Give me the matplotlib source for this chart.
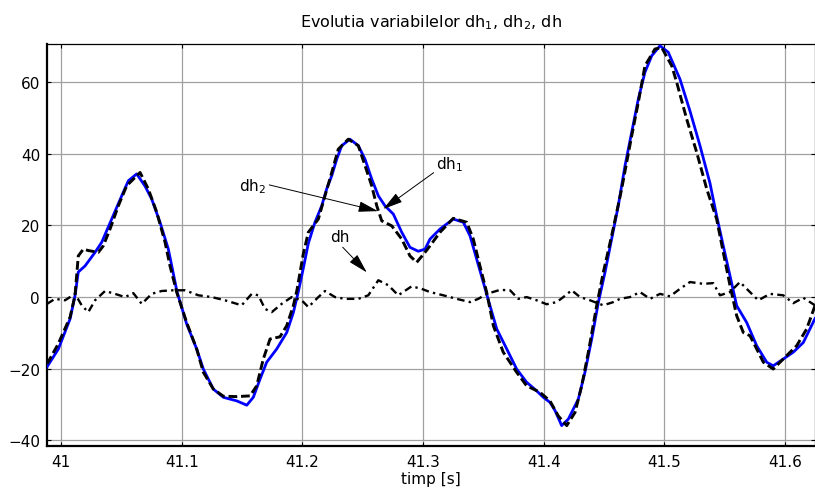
import matplotlib
matplotlib.use("Agg")
import matplotlib.pyplot as plt

plt.rcParams['font.family'] = ['DejaVu Sans']
plt.rcParams['mathtext.default'] = 'regular'

# time axis [s] and the three signals
t_dh1 = [40.9884, 40.9978, 41.0075, 41.0116, 41.0143, 41.0199, 41.0282, 41.0337, 41.0420, 41.0503,
         41.0558, 41.0627, 41.0696, 41.0751, 41.0820, 41.0889, 41.0961, 41.1041, 41.1124, 41.1179,
         41.1262, 41.1345, 41.1456, 41.1539, 41.1593, 41.1649, 41.1704, 41.1787, 41.1870, 41.1925,
         41.1966, 41.2007, 41.2049, 41.2104, 41.2160, 41.2201, 41.2243, 41.2284, 41.2326, 41.2394,
         41.2463, 41.2519, 41.2574, 41.2629, 41.2684, 41.2753, 41.2823, 41.2891, 41.2960, 41.3016,
         41.3057, 41.3140, 41.3250, 41.3333, 41.3389, 41.3444, 41.3499, 41.3554, 41.3610, 41.3693,
         41.3775, 41.3858, 41.3941, 41.3996, 41.4051, 41.4093, 41.4148, 41.4203, 41.4286, 41.4341,
         41.4397, 41.4452, 41.4507, 41.4562, 41.4617, 41.4673, 41.4728, 41.4783, 41.4838, 41.4894,
         41.4963, 41.5031, 41.5128, 41.5211, 41.5294, 41.5377, 41.5432, 41.5487, 41.5543, 41.5598,
         41.5681, 41.5764, 41.5847, 41.5901, 41.5984, 41.6067, 41.6150, 41.6247]
dh1 = [-19.5, -14.5, -6.1, 0.4, 7.0, 8.7, 12.5, 15.3, 21.8, 28.3,
       32.5, 34.4, 31.0, 27.4, 20.9, 13.4, 1.5, -7.5, -14.5, -20.1,
       -25.7, -28.0, -29.0, -30.2, -28.0, -22.9, -18.2, -14.5, -9.9, -4.3,
       1.5, 8.0, 15.0, 20.9, 25.5, 30.2, 33.9, 38.5, 42.3, 44.1,
       42.3, 38.5, 33.0, 28.3, 25.5, 23.2, 18.1, 13.9, 12.8, 13.4,
       16.2, 19.0, 21.8, 20.9, 17.1, 10.6, 4.1, -2.4, -8.9, -14.5,
       -20.1, -23.8, -26.2, -28.0, -29.4, -31.7, -35.9, -34.1, -28.5, -21.0,
       -11.7, -1.5, 6.9, 16.2, 25.5, 36.7, 46.0, 55.3, 62.8, 67.4,
       70.2, 68.4, 60.9, 52.0, 42.3, 31.8, 22.7, 14.3, 5.9, -2.4,
       -7.1, -13.6, -18.2, -19.2, -17.3, -15.4, -12.7, -6.0]

t_dh2 = [40.9884, 40.9978, 41.0075, 41.0116, 41.0143, 41.0185, 41.0226, 41.0309, 41.0350, 41.0406,
         41.0475, 41.0544, 41.0655, 41.0723, 41.0793, 41.0862, 41.0903, 41.0959, 41.1041, 41.1124,
         41.1179, 41.1262, 41.1345, 41.1456, 41.1566, 41.1621, 41.1676, 41.1732, 41.1814, 41.1870,
         41.1925, 41.1955, 41.2007, 41.2049, 41.2132, 41.2187, 41.2243, 41.2297, 41.2380, 41.2463,
         41.2519, 41.2574, 41.2616, 41.2657, 41.2740, 41.2823, 41.2891, 41.2947, 41.3016, 41.3057,
         41.3140, 41.3250, 41.3361, 41.3416, 41.3471, 41.3527, 41.3582, 41.3664, 41.3775, 41.3858,
         41.3968, 41.4051, 41.4120, 41.4190, 41.4259, 41.4314, 41.4369, 41.4438, 41.4493, 41.4562,
         41.4645, 41.4728, 41.4783, 41.4838, 41.4921, 41.4977, 41.5060, 41.5101, 41.5184, 41.5267,
         41.5350, 41.5432, 41.5487, 41.5543, 41.5598, 41.5653, 41.5708, 41.5764, 41.5819, 41.5901,
         41.5984, 41.6095, 41.6178, 41.6247]
dh2 = [-18.7, -13.0, -5.6, 0.5, 11.5, 13.4, 13.0, 12.5, 14.3, 19.0,
       25.5, 31.1, 34.8, 30.2, 23.7, 15.3, 8.7, 1.3, -7.1, -14.5,
       -21.0, -25.7, -27.7, -27.8, -27.6, -24.8, -17.3, -11.7, -11.1, -8.0,
       -2.4, 2.0, 12.0, 18.1, 21.8, 28.3, 34.8, 41.3, 44.1, 42.3,
       36.7, 31.1, 25.5, 21.3, 19.9, 16.2, 11.5, 9.7, 12.5, 14.3,
       18.1, 22.0, 20.9, 16.2, 8.7, 1.3, -8.0, -15.4, -21.0, -24.8,
       -26.6, -29.0, -33.2, -35.9, -32.2, -24.8, -15.4, -2.4, 6.9, 17.1,
       30.2, 45.0, 54.4, 64.6, 69.3, 69.7, 64.6, 60.0, 49.7, 40.4,
       30.2, 21.8, 12.5, 3.2, -5.2, -9.9, -10.8, -14.5, -18.2, -20.1,
       -17.3, -13.6, -8.9, -2.4]

t_dh = [40.9884, 40.9950, 41.0033, 41.0116, 41.0171, 41.0226, 41.0282, 41.0365, 41.0447, 41.0530,
        41.0599, 41.0669, 41.0751, 41.0834, 41.0930, 41.1027, 41.1138, 41.1249, 41.1359, 41.1497,
        41.1580, 41.1635, 41.1690, 41.1746, 41.1828, 41.1911, 41.1994, 41.2049, 41.2132, 41.2187,
        41.2270, 41.2353, 41.2463, 41.2546, 41.2629, 41.2712, 41.2794, 41.2905, 41.2988, 41.3057,
        41.3167, 41.3278, 41.3389, 41.3457, 41.3527, 41.3637, 41.3720, 41.3789, 41.3858, 41.3941,
        41.4024, 41.4107, 41.4162, 41.4231, 41.4300, 41.4383, 41.4493, 41.4576, 41.4631, 41.4714,
        41.4797, 41.4880, 41.4963, 41.5046, 41.5128, 41.5211, 41.5322, 41.5404, 41.5460, 41.5543,
        41.5625, 41.5708, 41.5777, 41.5874, 41.5984, 41.6067, 41.6150, 41.6247]
dh = [-1.9, -0.5, -0.9, 0.9, -2.3, -4.2, -0.9, 1.7, 0.9, 0.0,
      1.1, -1.9, 0.9, 1.7, 1.9, 1.9, 0.5, 0.0, -0.9, -2.3,
      0.9, 0.5, -3.3, -4.2, -1.9, 0.0, -0.9, -2.8, 0.0, 1.7,
      0.0, -0.5, -0.5, 0.5, 4.7, 3.3, 0.5, 3.0, 2.3, 1.4,
      0.5, -0.5, -1.4, -0.5, 0.9, 2.0, 1.9, -0.5, 0.0, -0.9,
      -2.0, -1.4, 0.0, 1.9, 0.0, -0.9, -2.3, -1.4, -0.5, 0.0,
      1.4, -0.5, 0.9, 0.2, 2.3, 4.2, 3.7, 3.9, 0.5, 1.4,
      4.2, 1.4, -0.9, 0.9, 0.5, -1.7, -0.2, -2.3]

x_ticks = [41.0, 41.1, 41.2, 41.3, 41.4, 41.5, 41.6]
x_ticklabels = ['41', '41.1', '41.2', '41.3', '41.4', '41.5', '41.6']
y_ticks = [-40, -20, 0, 20, 40, 60]
x_range = (40.9884, 41.6247)
y_range = (-41.6, 70.7)

fig = plt.figure(figsize=(8.15, 4.89), dpi=100)
ax = fig.add_axes([0.0577, 0.0859, 0.9423, 0.8221])

ax.plot(t_dh1, dh1, color=(0, 0, 1), lw=2.0, solid_joinstyle='round', zorder=3)
ax.plot(t_dh2, dh2, color='k', lw=2.1, dashes=(3.0, 1.3), zorder=4)
ax.plot(t_dh, dh, color='k', lw=1.7, dashes=(3.2, 1.8, 1.0, 1.8), zorder=4)

ax.set_xlim(*x_range)
ax.set_ylim(*y_range)
ax.set_xticks(x_ticks)
ax.set_xticklabels(x_ticklabels)
ax.set_yticks(y_ticks)
ax.grid(True, color='#a0a0a0', lw=0.9, ls='-')
ax.set_axisbelow(True)

ax.tick_params(direction='in', length=3, width=0.8, top=True, right=True,
               labelsize=11, pad=6, colors='k')
ax.tick_params(axis='y', pad=5)
for side in ('left', 'bottom'):
    ax.spines[side].set_linewidth(1.6)
ax.spines['top'].set_linewidth(0.9)
ax.spines['right'].set_linewidth(0.9)

ax.set_title('Evolutia variabilelor dh$_1$, dh$_2$, dh', fontsize=11.5, pad=13)
ax.set_xlabel('timp [s]', fontsize=11, labelpad=1)

arrow = dict(arrowstyle='-|>,head_length=1.1,head_width=0.3', color='k', lw=0.7,
             mutation_scale=11, shrinkA=0, shrinkB=0)
ax.annotate('dh$_1$', xy=(41.2670, 24.6), xytext=(41.3223, 37.4), fontsize=11,
            ha='center', va='center', arrowprops=dict(arrow, relpos=(0.0, 0.1)), zorder=6)
ax.annotate('dh$_2$', xy=(41.2626, 24.0), xytext=(41.1590, 31.0), fontsize=11,
            ha='center', va='center', arrowprops=dict(arrow, relpos=(1.0, 0.6)), zorder=6)
ax.annotate('dh', xy=(41.2533, 6.9), xytext=(41.2312, 16.8), fontsize=11,
            ha='center', va='center', arrowprops=dict(arrow, relpos=(0.5, 0.0)), zorder=6)

fig.savefig('out.png', dpi=100)
